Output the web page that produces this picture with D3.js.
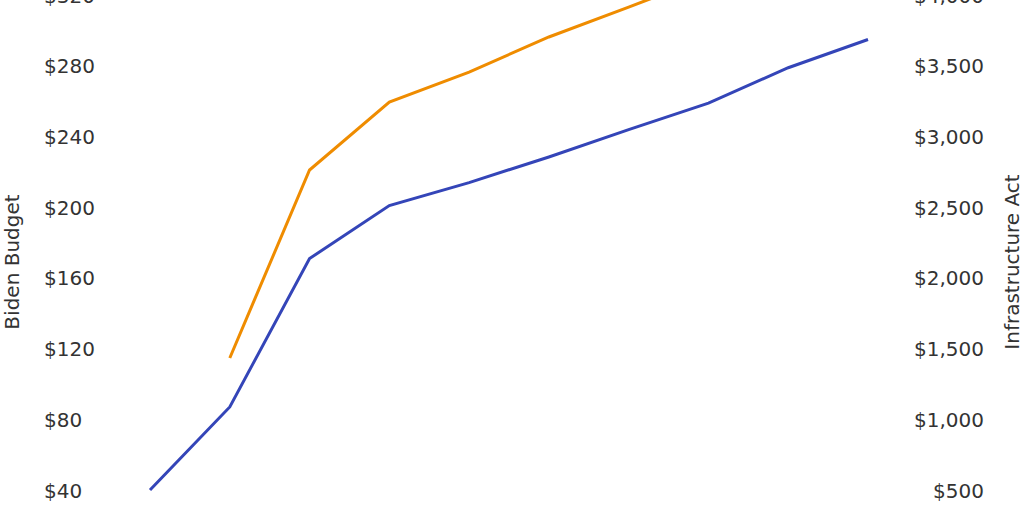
<!DOCTYPE html>
<html>
<head>
<meta charset="utf-8">
<script src="https://cdn.jsdelivr.net/npm/d3@7"></script>
<style>
  body { margin: 0; background: #fff; }
  svg { display: block; }
  svg text { font-family: "DejaVu Sans", sans-serif; font-size: 20px; fill: #333; }
  .axis path, .axis line { display: none; }
</style>
</head>
<body>
<svg id="chart" width="1024" height="512"></svg>
<script>
// years along the x axis (labels sit below the visible area)
const years = [2022, 2023, 2024, 2025, 2026, 2027, 2028, 2029, 2030, 2031];
// Biden Budget, left axis ($)
const bidenBudget = [40, 87, 171, 201, 214, 228.5, 244, 259, 279, 295];
// Infrastructure Act, right axis ($) - no value in the first year
const infraAct = [null, 1434, 2764, 3245, 3457, 3705, 3917, 4130, 4340, 4550];
const leftTicks = [40, 80, 120, 160, 200, 240, 280, 320];
const rightTicks = [500, 1000, 1500, 2000, 2500, 3000, 3500, 4000];

const svg = d3.select("#chart");

var x = d3.scaleLinear().domain([2022, 2031]).range([150, 868]);
var yL = d3.scaleLinear().domain([40, 320]).range([490, -4.7]);
var yR = d3.scaleLinear().domain([500, 4000]).range([490, -4.7]);

const fmtL = d => "$" + d3.format(",")(d);

svg.append("g")
    .attr("class", "axis")
    .attr("transform", "translate(44,0)")
    .call(d3.axisRight(yL).tickValues(leftTicks).tickFormat(fmtL).tickSize(0).tickPadding(0))
    .attr("font-family", null).attr("font-size", null)
    .selectAll("text").attr("dy", "0.35em");

svg.append("g")
    .attr("class", "axis")
    .attr("transform", "translate(984,0)")
    .call(d3.axisLeft(yR).tickValues(rightTicks).tickFormat(fmtL).tickSize(0).tickPadding(0))
    .attr("font-family", null).attr("font-size", null)
    .selectAll("text").attr("dy", "0.35em");

// axis titles
svg.append("text")
    .attr("transform", "translate(19,262) rotate(-90)")
    .attr("text-anchor", "middle")
    .text("Biden Budget");

svg.append("text")
    .attr("transform", "translate(1019,262) rotate(-90)")
    .attr("text-anchor", "middle")
    .text("Infrastructure Act");

var blueLine = d3.line()
    .x((d, i) => x(years[i]))
    .y(d => yL(d));

var orangeLine = d3.line()
    .defined(d => d != null)
    .x((d, i) => x(years[i]))
    .y(d => yR(d));

svg.append("path")
    .datum(infraAct)
    .attr("fill", "none")
    .attr("stroke", "#ef8c00")
    .attr("stroke-width", 3)
    .attr("d", orangeLine);

svg.append("path")
    .datum(bidenBudget)
    .attr("fill", "none")
    .attr("stroke", "#3445b8")
    .attr("stroke-width", 3)
    .attr("d", blueLine);
</script>
</body>
</html>
